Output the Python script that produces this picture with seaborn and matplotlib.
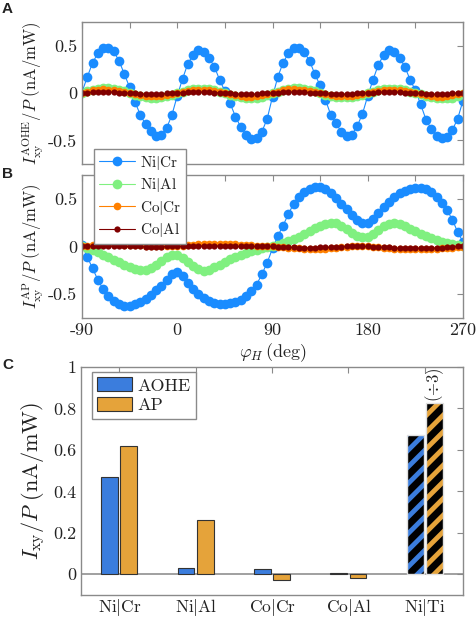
import numpy as np
import pandas as pd
import matplotlib
matplotlib.use('Agg')
import matplotlib.pyplot as plt
import seaborn as sns
from matplotlib.colors import to_rgba

# field angle grid (deg)
phi = np.arange(-90, 271, 5)

# panel A: AOHE signal, nA/mW
a_nicr = [0.01, 0.17, 0.32, 0.42, 0.48, 0.48, 0.44, 0.34, 0.20, 0.06, -0.09, -0.23, -0.33, -0.40, -0.45, -0.44, -0.37, -0.23,
          -0.03, 0.15, 0.31, 0.40, 0.45, 0.43, 0.37, 0.28, 0.14, 0.02, -0.11, -0.25, -0.36, -0.44, -0.49, -0.48, -0.41, -0.27,
          -0.04, 0.17, 0.32, 0.42, 0.48, 0.48, 0.43, 0.34, 0.20, 0.08, -0.07, -0.23, -0.32, -0.41, -0.455, -0.44, -0.35, -0.22,
          -0.03, 0.14, 0.30, 0.40, 0.45, 0.43, 0.37, 0.28, 0.14, 0.03, -0.12, -0.28, -0.38, -0.45, -0.48, -0.46, -0.39, -0.27,
          -0.08]
a_nial = [0.00, 0.02, 0.035, 0.045, 0.05, 0.05, 0.045, 0.035, 0.02, 0.00, -0.02, -0.035, -0.045, -0.05, -0.05, -0.045, -0.035, -0.02,
          -0.005, 0.015, 0.03, 0.04, 0.045, 0.045, 0.04, 0.03, 0.015, 0.00, -0.02, -0.035, -0.045, -0.05, -0.055, -0.05, -0.04, -0.025,
          -0.005, 0.015, 0.035, 0.045, 0.05, 0.05, 0.045, 0.035, 0.02, 0.00, -0.02, -0.03, -0.04, -0.045, -0.045, -0.04, -0.03, -0.02,
          -0.005, 0.015, 0.03, 0.04, 0.045, 0.045, 0.04, 0.03, 0.015, 0.00, -0.015, -0.03, -0.045, -0.05, -0.055, -0.055, -0.05, -0.035,
          -0.015]
a_cocr = [0.00, 0.015, 0.03, 0.035, 0.04, 0.035, 0.03, 0.02, 0.01, 0.00, -0.015, -0.025, -0.03, -0.035, -0.035, -0.03, -0.02, -0.01,
          0.00, 0.015, 0.025, 0.03, 0.035, 0.035, 0.03, 0.02, 0.01, -0.005, -0.015, -0.025, -0.035, -0.04, -0.04, -0.035, -0.025, -0.01,
          0.00, 0.015, 0.03, 0.04, 0.04, 0.035, 0.03, 0.02, 0.01, 0.00, -0.015, -0.025, -0.03, -0.035, -0.035, -0.03, -0.02, -0.01,
          0.00, 0.015, 0.025, 0.03, 0.035, 0.035, 0.03, 0.02, 0.01, 0.00, -0.015, -0.025, -0.035, -0.04, -0.04, -0.035, -0.025, -0.01,
          0.00]
a_coal = [0.00, 0.005, 0.01, 0.01, 0.01, 0.01, 0.01, 0.005, 0.00, 0.00, -0.005, -0.01, -0.012, -0.012, -0.012, -0.01, -0.005, 0.00,
          0.00, 0.005, 0.01, 0.01, 0.01, 0.01, 0.01, 0.005, 0.00, 0.00, -0.005, -0.01, -0.012, -0.012, -0.012, -0.01, -0.005, 0.00,
          0.00, 0.005, 0.01, 0.01, 0.01, 0.01, 0.01, 0.005, 0.00, 0.00, -0.005, -0.01, -0.012, -0.012, -0.012, -0.01, -0.005, 0.00,
          0.00, 0.005, 0.01, 0.01, 0.01, 0.01, 0.01, 0.005, 0.00, 0.00, -0.005, -0.01, -0.012, -0.012, -0.012, -0.01, -0.005, 0.00,
          0.00]

# panel B: AP signal, nA/mW
b_nicr = [0.02, -0.11, -0.23, -0.35, -0.45, -0.52, -0.57, -0.60, -0.62, -0.62, -0.60, -0.58, -0.55, -0.51, -0.46, -0.41, -0.35, -0.29,
          -0.27, -0.31, -0.38, -0.45, -0.50, -0.54, -0.57, -0.59, -0.60, -0.60, -0.59, -0.58, -0.56, -0.52, -0.47, -0.40, -0.29, -0.17,
          -0.02, 0.11, 0.22, 0.34, 0.45, 0.52, 0.57, 0.60, 0.62, 0.62, 0.60, 0.56, 0.51, 0.45, 0.39, 0.33, 0.28, 0.25,
          0.25, 0.29, 0.35, 0.41, 0.47, 0.52, 0.56, 0.58, 0.60, 0.61, 0.61, 0.60, 0.57, 0.52, 0.46, 0.38, 0.28, 0.15,
          0.05]
b_nial = [0.00, -0.02, -0.04, -0.06, -0.09, -0.11, -0.14, -0.16, -0.19, -0.22, -0.24, -0.25, -0.25, -0.23, -0.19, -0.15, -0.11, -0.09,
          -0.09, -0.12, -0.16, -0.20, -0.24, -0.26, -0.25, -0.22, -0.19, -0.16, -0.13, -0.11, -0.09, -0.07, -0.05, -0.04, -0.02, -0.01,
          0.00, 0.02, 0.04, 0.06, 0.08, 0.10, 0.13, 0.16, 0.19, 0.22, 0.24, 0.25, 0.25, 0.22, 0.18, 0.14, 0.11, 0.10,
          0.10, 0.13, 0.17, 0.21, 0.24, 0.25, 0.24, 0.21, 0.18, 0.16, 0.13, 0.11, 0.09, 0.07, 0.05, 0.04, 0.03, 0.02,
          0.01]
b_cocr = [0.00, 0.01, 0.02, 0.025, 0.03, 0.03, 0.03, 0.025, 0.02, 0.02, 0.015, 0.015, 0.01, 0.01, 0.01, 0.01, 0.005, 0.005,
          0.005, 0.01, 0.015, 0.02, 0.025, 0.03, 0.03, 0.03, 0.03, 0.03, 0.025, 0.025, 0.02, 0.02, 0.015, 0.01, 0.01, 0.005,
          0.00, -0.005, -0.01, -0.015, -0.02, -0.02, -0.025, -0.025, -0.03, -0.03, -0.025, -0.02, -0.015, -0.01, -0.005, 0.00, 0.00, 0.00,
          0.00, -0.005, -0.01, -0.015, -0.02, -0.025, -0.025, -0.03, -0.03, -0.03, -0.03, -0.03, -0.025, -0.025, -0.02, -0.02, -0.015, -0.01,
          -0.005]
b_coal = [0.00, 0.00, 0.005, 0.005, 0.005, 0.005, 0.005, 0.005, 0.00, 0.00, 0.00, 0.00, -0.005, -0.005, -0.005, -0.005, 0.00, 0.00,
          0.00, 0.00, 0.00, 0.005, 0.005, 0.005, 0.005, 0.005, 0.005, 0.00, 0.00, 0.00, 0.00, 0.00, 0.00, 0.00, 0.00, 0.00,
          0.00, -0.005, -0.005, -0.01, -0.01, -0.015, -0.015, -0.015, -0.015, -0.01, -0.01, -0.01, -0.005, -0.005, 0.00, 0.00, 0.00, 0.00,
          0.00, -0.005, -0.005, -0.01, -0.01, -0.015, -0.02, -0.02, -0.02, -0.02, -0.02, -0.02, -0.02, -0.015, -0.015, -0.01, -0.005, 0.00,
          0.00]

# panel C: amplitudes
samples = ['Ni|Cr', 'Ni|Al', 'Co|Cr', 'Co|Al', 'Ni|Ti']
bar_aohe = [0.47, 0.029, 0.024, 0.006, 0.673]
bar_ap = [0.617, 0.26, -0.03, -0.02, 0.824]

series_names = ['Ni|Cr', 'Ni|Al', 'Co|Cr', 'Co|Al']
line_colors = ['#1a8cff', '#80f080', '#ff8000', '#800000']
marker_sizes = [7, 7, 5.5, 4.5]
bar_colors = ['#3b7ddd', '#e5a33a']

sns.set_style('white')
plt.rcParams.update({
    'font.family': 'serif',
    'font.serif': ['cmr10'],
    'mathtext.fontset': 'cm',
    'axes.formatter.use_mathtext': True,
    'axes.unicode_minus': False,
    'axes.edgecolor': '#8a8a8a',
    'axes.linewidth': 1.0,
    'text.color': '#222222',
    'axes.labelcolor': '#222222',
    'xtick.color': '#8a8a8a',
    'ytick.color': '#8a8a8a',
    'xtick.labelcolor': '#222222',
    'ytick.labelcolor': '#222222',
    'hatch.linewidth': 5.0,
    'hatch.color': 'black',
})

fig = plt.figure(figsize=(4.76, 6.17), dpi=100)
axA = fig.add_axes([0.1723, 0.7342, 0.8004, 0.2301])
axB = fig.add_axes([0.1723, 0.4846, 0.8004, 0.2318])
axC = fig.add_axes([0.1702, 0.0357, 0.8025, 0.3695])


def mlabel(s):
    return r'$\mathrm{' + s + '}$'


for ax, data in [(axA, [a_nicr, a_nial, a_cocr, a_coal]), (axB, [b_nicr, b_nial, b_cocr, b_coal])]:
    for name, vals, c, ms in zip(series_names, data, line_colors, marker_sizes):
        sns.lineplot(x=phi, y=vals, ax=ax, color=c, marker='o', markersize=ms,
                     markeredgewidth=0, linewidth=0.8, label=mlabel(name), legend=False)
    ax.set_xlim(-90, 270)
    ax.set_ylim(-0.75, 0.75)
    ax.set_xticks(range(-90, 271, 45))
    ax.set_yticks([-0.5, 0, 0.5])
    ax.set_yticklabels(['-0.5', '0', '0.5'])
    ax.tick_params(direction='in', top=True, right=True, length=4, width=0.8, labelsize=13)
    ax.set_xlabel('')

axA.set_xticklabels([])
axB.set_xticklabels(['-90', '', '0', '', '90', '', '180', '', '270'])
axA.set_ylabel(r'$I_{\mathrm{xy}}^{\mathrm{AOHE}}/P\ (\mathrm{nA/mW})$', fontsize=12, labelpad=2)
axB.set_ylabel(r'$I_{\mathrm{xy}}^{\mathrm{AP}}/P\ (\mathrm{nA/mW})$', fontsize=12, labelpad=2)
axB.set_xlabel(r'$\varphi_H\,(\mathrm{deg})$', fontsize=13, labelpad=2)

handles, labels = axA.get_legend_handles_labels()
fig.legend(handles, labels, loc='upper left', bbox_to_anchor=(94 / 476, 1 - 149 / 617),
           frameon=True, fancybox=False, edgecolor='#8a8a8a', framealpha=1, fontsize=11,
           handlelength=2.4, handletextpad=0.3, borderpad=0.3, labelspacing=0.3, borderaxespad=0)

# bar chart
bars = pd.DataFrame({'sample': samples * 2,
                     'kind': ['AOHE'] * len(samples) + ['AP'] * len(samples),
                     'val': bar_aohe + bar_ap})
sns.barplot(data=bars, x='sample', y='val', hue='kind', order=samples, hue_order=['AOHE', 'AP'],
            palette=bar_colors, saturation=1, width=0.5, gap=0.12, errorbar=None,
            edgecolor='#333333', linewidth=0.8, ax=axC)
axC.axhline(0, color='#999999', lw=1.3, zorder=0.5)

# Ni|Ti bars are scaled and drawn striped
top_ap = None
for p in axC.patches:
    cx = p.get_x() + p.get_width() / 2
    if cx > 3.5:
        p.set_hatch('//')
        p.set_edgecolor('#e0e0e0')
        p.set_linewidth(1.0)
        if hasattr(p, 'set_hatchcolor'):
            p.set_hatchcolor('black')
        else:
            p._hatch_color = to_rgba('black')
        if hasattr(p, 'set_hatch_linewidth'):
            p.set_hatch_linewidth(5.0)
        if cx > 4:
            top_ap = (cx, p.get_y() + p.get_height())
if top_ap is not None:
    axC.text(top_ap[0], top_ap[1] + 0.005, r'$(\div 3)$', rotation=90, ha='center', va='bottom', fontsize=12)

leg = axC.get_legend()
h = leg.legend_handles
lab = [t.get_text() for t in leg.texts]
leg.remove()
axC.legend(h, lab, loc='upper left', bbox_to_anchor=(92 / 476, 1 - 372 / 617), bbox_transform=fig.transFigure,
           frameon=True, fancybox=False, edgecolor='#8a8a8a', framealpha=1, fontsize=13,
           handlelength=1.9, handleheight=0.8, handletextpad=0.3, borderpad=0.3, labelspacing=0.2, borderaxespad=0)

axC.set_xlim(-0.5, 4.5)
axC.set_ylim(-0.1, 1.0)
axC.set_yticks([0, 0.2, 0.4, 0.6, 0.8, 1.0])
axC.set_yticklabels(['0', '0.2', '0.4', '0.6', '0.8', '1'])
axC.set_xticks(range(len(samples)))
axC.set_xticklabels([mlabel(s) for s in samples])
axC.tick_params(direction='in', top=True, right=True, length=4, width=0.8, labelsize=13)
axC.tick_params(axis='x', bottom=False, labelsize=12.5, pad=1.5)
axC.set_xlabel('')
axC.set_ylabel(r'$I_{\mathrm{xy}}/P\ (\mathrm{nA/mW})$', fontsize=16, labelpad=4)

for ax in (axA, axB, axC):
    for s in ax.spines.values():
        s.set_visible(True)

for txt, ytop in [('A', 2), ('B', 167), ('C', 358)]:
    fig.text(2 / 476, 1 - ytop / 617, txt, ha='left', va='top', fontsize=11,
             fontweight='bold', family='Liberation Sans')

fig.savefig('out.png', dpi=100)
